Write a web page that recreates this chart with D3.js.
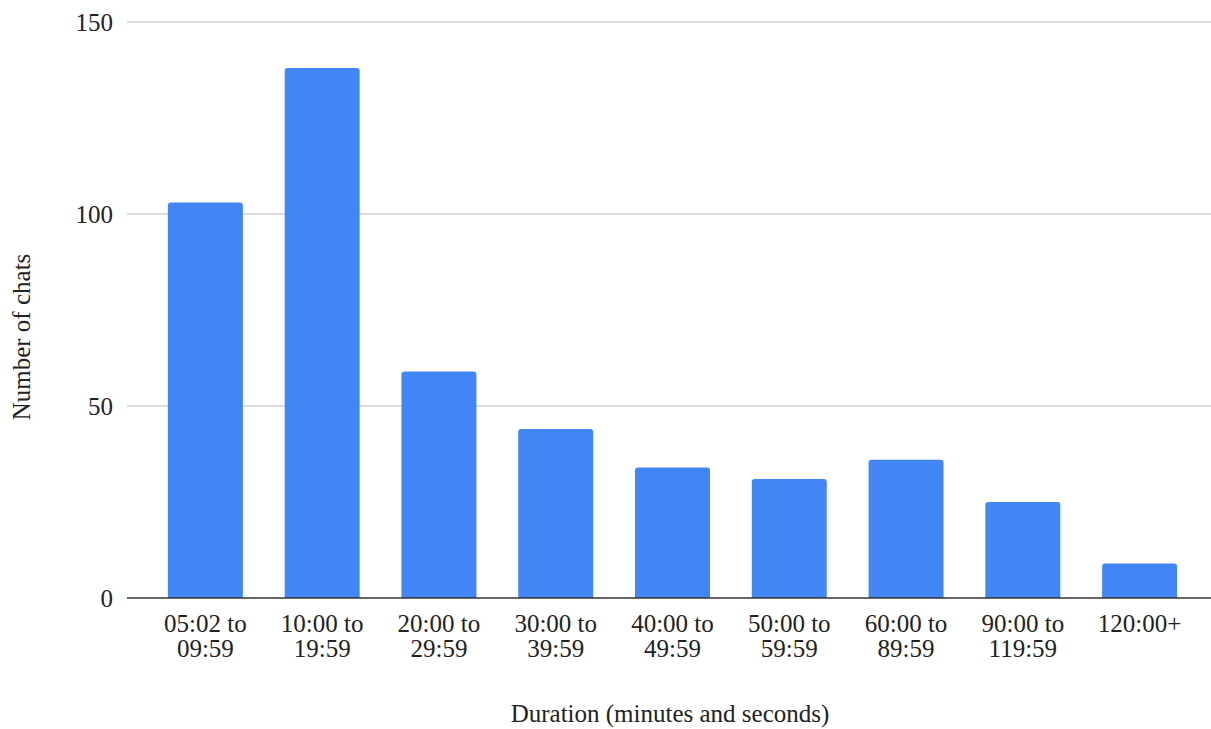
<!DOCTYPE html>
<html>
<head>
<meta charset="utf-8">
<script src="https://cdn.jsdelivr.net/npm/d3@7"></script>
<style>
  html, body { margin: 0; padding: 0; background: #fff; }
  svg { display: block; }
  svg text { font-family: "Liberation Serif", "Tinos", "Times New Roman", "DejaVu Serif", serif !important; fill: #222; }
</style>
</head>
<body>
<svg id="chart" width="1211" height="729"></svg>
<script>
// Chat duration buckets and the number of chats in each
const categories = [
  ["05:02 to", "09:59"],
  ["10:00 to", "19:59"],
  ["20:00 to", "29:59"],
  ["30:00 to", "39:59"],
  ["40:00 to", "49:59"],
  ["50:00 to", "59:59"],
  ["60:00 to", "89:59"],
  ["90:00 to", "119:59"],
  ["120:00+"]
];
const chatCounts = [103, 138, 59, 44, 34, 31, 36, 25, 9];
const yTicks = [0, 50, 100, 150];
const xTitle = "Duration (minutes and seconds)";
const yTitle = "Number of chats";

const FONT = "'Liberation Serif', Tinos, 'Times New Roman', 'DejaVu Serif', serif";
const FS = 25;
const LINE_GAP = 25;

const svg = d3.select("#chart").attr("font-family", FONT);
const plot = { left: 127, right: 1211, top: 22, bottom: 598 };

const keys = categories.map(c => c.join(" "));
const x = d3.scaleBand()
  .domain(keys)
  .range([147, 1198])
  .paddingInner(0.358)
  .paddingOuter(0.179);

const y = d3.scaleLinear()
  .domain([0, 150])
  .range([plot.bottom, plot.top]);

// Horizontal gridlines
svg.append("g")
  .selectAll("line")
  .data(yTicks.filter(t => t !== 0))
  .join("line")
  .attr("x1", plot.left).attr("x2", plot.right)
  .attr("y1", d => y(d)).attr("y2", d => y(d))
  .attr("stroke", "#cfcfcf").attr("stroke-width", 1.5);

// Y axis labels
const yAxis = svg.append("g")
  .attr("transform", `translate(${plot.left},0)`)
  .call(d3.axisLeft(y).tickValues(yTicks).tickSize(0).tickPadding(14));
yAxis.attr("font-family", FONT).attr("font-size", FS);
yAxis.select(".domain").remove();
yAxis.selectAll("text").attr("fill", "#222");

// Bars with slightly rounded top corners
const r = 3;
svg.append("g")
  .selectAll("path")
  .data(chatCounts)
  .join("path")
  .attr("fill", "#4285f4")
  .attr("d", (d, i) => {
    const x0 = x(keys[i]), w = x.bandwidth();
    const y0 = y(d), yb = y(0);
    return `M${x0},${yb}V${y0 + r}Q${x0},${y0} ${x0 + r},${y0}` +
           `H${x0 + w - r}Q${x0 + w},${y0} ${x0 + w},${y0 + r}V${yb}Z`;
  });

// Baseline
svg.append("line")
  .attr("x1", plot.left).attr("x2", plot.right)
  .attr("y1", y(0)).attr("y2", y(0))
  .attr("stroke", "#333").attr("stroke-width", 1.5);

// X axis category labels (two lines each)
const xAxis = svg.append("g")
  .attr("transform", `translate(0,${plot.bottom})`)
  .call(d3.axisBottom(x).tickSize(0).tickFormat(""));
xAxis.attr("font-family", FONT).attr("font-size", FS);
xAxis.select(".domain").remove();
xAxis.selectAll(".tick").each(function(d, i) {
  const t = d3.select(this).append("text")
    .attr("text-anchor", "middle")
    .attr("fill", "#222");
  categories[i].forEach((line, j) => {
    t.append("tspan").attr("x", 0).attr("y", 34 + j * LINE_GAP).text(line);
  });
});

// Axis titles
svg.append("text")
  .attr("x", 670).attr("y", 722)
  .attr("text-anchor", "middle")
  .attr("font-size", FS)
  .text(xTitle);

svg.append("text")
  .attr("transform", "translate(30,337) rotate(-90)")
  .attr("text-anchor", "middle")
  .attr("font-size", FS)
  .text(yTitle);
</script>
</body>
</html>
